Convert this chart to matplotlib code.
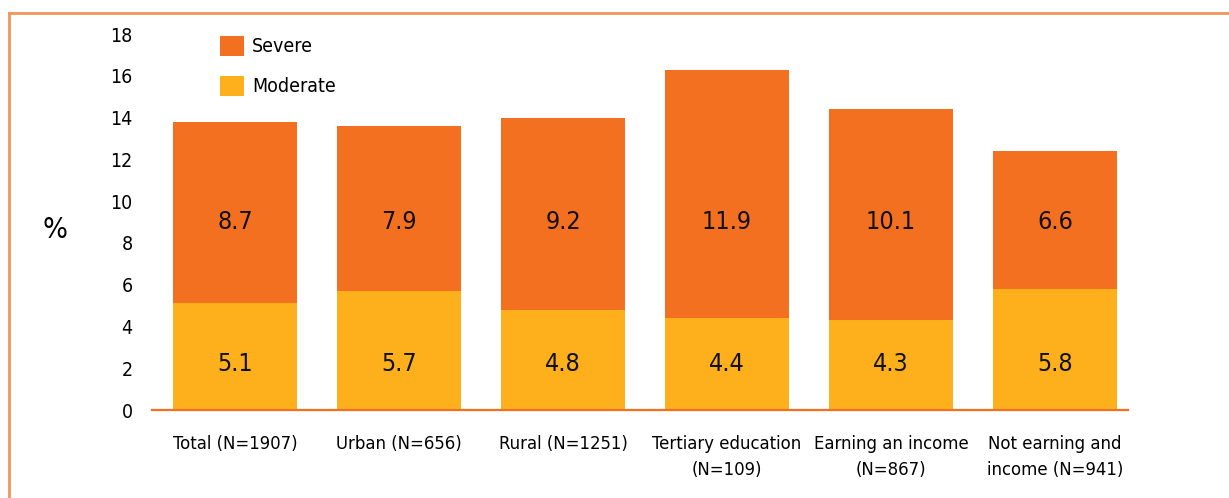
import matplotlib.pyplot as plt
from matplotlib.lines import Line2D
import numpy as np

plt.rcParams['font.family'] = ['Liberation Sans Narrow', 'DejaVu Sans']
plt.rcParams['font.stretch'] = 'condensed'

# Datos
categorias = ['Total (N=1907)', 'Urban (N=656)', 'Rural (N=1251)',
              'Tertiary education\n(N=109)', 'Earning an income\n(N=867)',
              'Not earning and\nincome (N=941)']
moderate = [5.1, 5.7, 4.8, 4.4, 4.3, 5.8]
severe = [8.7, 7.9, 9.2, 11.9, 10.1, 6.6]

c_severe = '#F37021'
c_moderate = '#FDB01C'
c_borde = '#F0955C'

fig = plt.figure(figsize=(12.29, 4.98), dpi=100)
ax = fig.add_axes([0.1237, 0.1767, 0.794, 0.755])

x = np.arange(len(categorias))
ancho = 0.756
b1 = ax.bar(x, moderate, ancho, color=c_moderate, label='Moderate', zorder=2)
b2 = ax.bar(x, severe, ancho, bottom=moderate, color=c_severe, label='Severe', zorder=2)

# etiquetas a altura fija, como en el original
for i in range(len(x)):
    ax.text(x[i], 2.2, f'{moderate[i]:.1f}', ha='center', va='center',
            fontsize=18, color='#111111')
    ax.text(x[i], 9.0, f'{severe[i]:.1f}', ha='center',
            va='center', fontsize=18, color='#111111')

ax.set_xlim(-0.506, 5.445)
ax.set_ylim(0, 18)
ax.set_yticks(range(0, 19, 2))
ax.set_xticks(x)
ax.set_xticklabels(categorias, fontsize=13.2, linespacing=1.55)
ax.tick_params(axis='y', length=0, pad=14, labelsize=14)
ax.tick_params(axis='x', length=0, pad=18)

for lado in ['top', 'right', 'left']:
    ax.spines[lado].set_visible(False)
ax.spines['bottom'].set_color(c_severe)
ax.spines['bottom'].set_linewidth(1.6)
ax.spines['bottom'].set_zorder(3)

fig.text(55 / 1229, 1 - 230 / 498, '%', fontsize=21, ha='center', va='center')

leg = ax.legend(handles=[b2, b1], loc='upper left', bbox_to_anchor=(0.052, 1.042),
                frameon=False, fontsize=14, handlelength=1.2, handleheight=1.2,
                labelspacing=1.0, handletextpad=0.45)

# Marco naranja
fig.add_artist(Line2D([9 / 1229, 1], [1 - 13 / 498, 1 - 13 / 498], color=c_borde, lw=2))
fig.add_artist(Line2D([9 / 1229, 9 / 1229], [0, 1 - 13 / 498], color=c_borde, lw=2))

fig.savefig('out.png', dpi=100)
